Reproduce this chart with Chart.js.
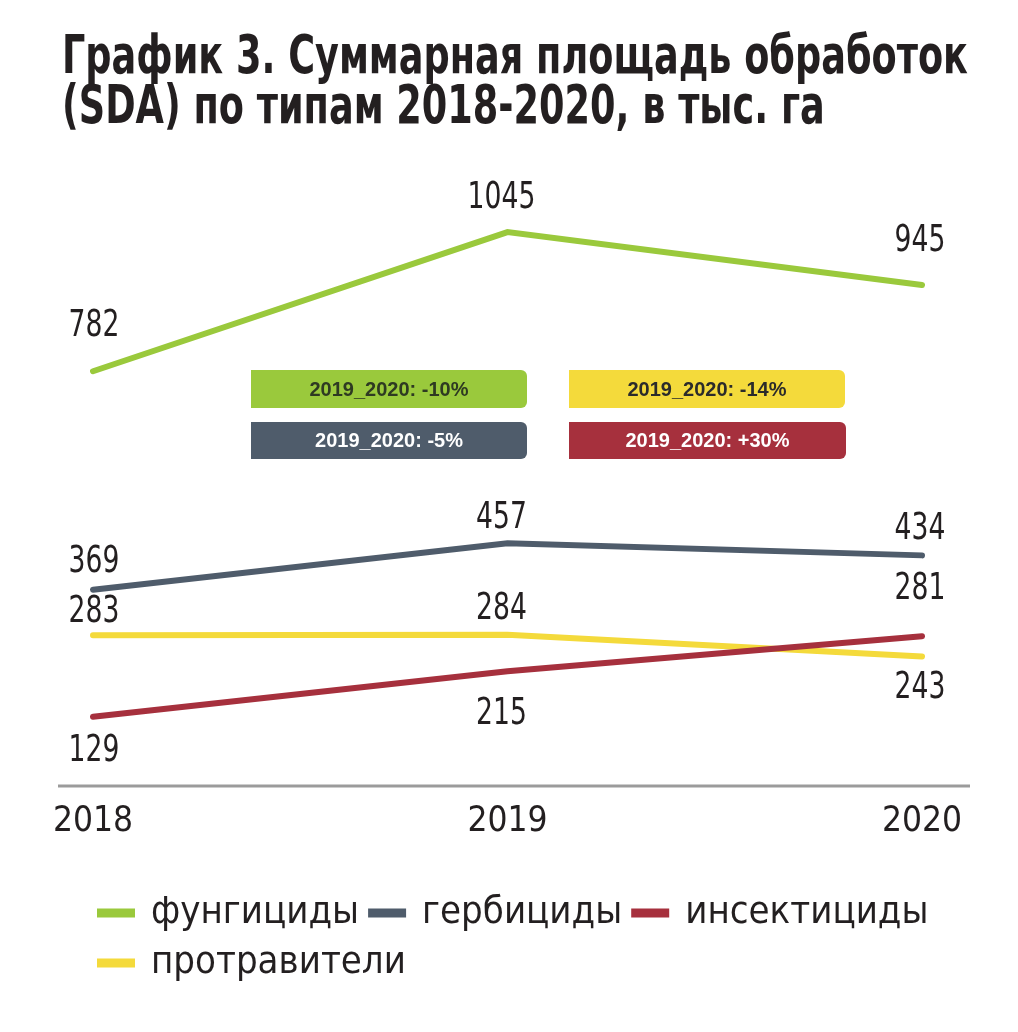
<!DOCTYPE html>
<html><head><meta charset="utf-8">
<script src="https://cdn.jsdelivr.net/npm/chart.js@4"></script>
<style>
html,body{margin:0;padding:0;background:#fff;width:1018px;height:1032px;overflow:hidden;}
#title{position:absolute;left:62px;top:30px;margin:0;font-family:"DejaVu Sans Condensed","DejaVu Sans",sans-serif;font-stretch:condensed;font-weight:bold;font-size:53px;line-height:50px;color:#231f20;white-space:nowrap;transform-origin:0 0;}
#title span{display:inline-block;}
#wrap{position:absolute;left:0;top:0;width:1018px;height:1032px;}
</style></head>
<body>
<div id="wrap"><canvas id="c" width="1018" height="1032"></canvas></div>
<h1 id="title"><span id="t1">График 3. Суммарная площадь обработок</span><br><span>(SDA) по типам 2018-2020, в тыс. га</span></h1>
<script>
const categories = ['2018', '2019', '2020'];
const seriesNames = ['фунгициды', 'гербициды', 'инсектициды', 'протравители'];
const fungicides = [782, 1045, 945];
const herbicides = [369, 457, 434];
const insecticides = [129, 215, 281];
const seedTreatments = [283, 284, 243];
const changeLabels = ['2019_2020: -10%', '2019_2020: -14%', '2019_2020: -5%', '2019_2020: +30%'];

// fit title line 1 to its width in the reference
(function(){
  const t = document.getElementById('title');
  const w = document.getElementById('t1').getBoundingClientRect().width;
  t.style.transform = 'scaleX(' + (906 / w) + ')';
})();

const colors = ['#9ac93c', '#4f5c6b', '#a6303d', '#f4da3b'];
const boxStyles = [
  {x:251, y:370, w:276, h:38, fill:'#9ac93c', text:'#2e3a22'},
  {x:569, y:370, w:276, h:38, fill:'#f4da3b', text:'#2b2b2b'},
  {x:251, y:422, w:276, h:37, fill:'#4f5c6b', text:'#ffffff'},
  {x:569, y:422, w:277, h:37, fill:'#a6303d', text:'#ffffff'}
];
// label vertical offsets (px) relative to each point
const labelDy = [
  [-45, -34, -44],
  [-27, -25, -26],
  [35, 43, -47],
  [-23, -25, 32]
];
const labelDx = [1, -6, -2];
const FONT_FAMILY = '"DejaVu Sans Condensed", "DejaVu Sans", sans-serif';

const decorPlugin = {
  id: 'decor',
  beforeDatasetsDraw(chart) {
    const {ctx, chartArea} = chart;
    ctx.save();
    ctx.strokeStyle = '#9b9b9b';
    ctx.lineWidth = 3;
    ctx.beginPath();
    ctx.moveTo(chartArea.left - 35, chartArea.bottom + 1);
    ctx.lineTo(chartArea.right + 48, chartArea.bottom + 1);
    ctx.stroke();
    ctx.restore();
  },
  afterDatasetsDraw(chart) {
    const {ctx} = chart;
    ctx.save();
    ctx.font = '37px ' + FONT_FAMILY;
    ctx.fillStyle = '#231f20';
    ctx.textAlign = 'center';
    ctx.textBaseline = 'middle';
    const sx = 0.8;
    chart.data.datasets.forEach((ds, i) => {
      const meta = chart.getDatasetMeta(i);
      meta.data.forEach((pt, j) => {
        ctx.save();
        ctx.translate(pt.x + labelDx[j], pt.y + labelDy[i][j]);
        ctx.scale(sx, 1);
        ctx.fillText(String(ds.data[j]), 0, 0);
        ctx.restore();
      });
    });
    boxStyles.forEach((b, k) => {
      ctx.fillStyle = b.fill;
      ctx.beginPath();
      ctx.roundRect(b.x, b.y, b.w, b.h, [0, 6, 6, 0]);
      ctx.fill();
      ctx.fillStyle = b.text;
      ctx.font = 'bold 20px "Liberation Sans", Arial, sans-serif';
      ctx.fillText(changeLabels[k], b.x + b.w / 2, b.y + b.h / 2 + 1);
    });
    ctx.restore();
  }
};

const mk = (label, data, color) => ({
  label, data, borderColor: color, backgroundColor: color,
  borderWidth: 6, pointRadius: 0, tension: 0, fill: false, borderCapStyle: 'round'
});

const hiddenAxis = (pos, w) => ({
  position: pos, display: true, min: 0, max: 1100,
  grid: {display: false, drawTicks: false}, border: {display: false},
  ticks: {display: false},
  afterFit(scale) { scale.width = w; }
});

new Chart(document.getElementById('c'), {
  type: 'line',
  data: {
    labels: categories,
    datasets: [
      mk(seriesNames[0], fungicides, colors[0]),
      mk(seriesNames[1], herbicides, colors[1]),
      mk(seriesNames[2], insecticides, colors[2]),
      mk(seriesNames[3], seedTreatments, colors[3])
    ]
  },
  options: {
    responsive: false,
    animation: false,
    layout: {padding: {left: 88, right: 48, top: 203, bottom: 40}},
    scales: {
      x: {
        offset: false,
        grid: {display: false, drawTicks: false},
        border: {display: false},
        ticks: {color: '#231f20', padding: 16, font: {family: FONT_FAMILY, size: 35}},
        afterFit(scale) { scale.height = 97; }
      },
      y: hiddenAxis('left', 5),
      y2: hiddenAxis('right', 48)
    },
    plugins: {
      tooltip: {enabled: false},
      legend: {
        position: 'bottom', align: 'start',
        labels: {
          color: '#231f20', boxWidth: 32, boxHeight: 3, padding: 12,
          font: {family: FONT_FAMILY, size: 38, lineHeight: 1.0}
        }
      }
    }
  },
  plugins: [decorPlugin]
});
</script>
</body></html>
